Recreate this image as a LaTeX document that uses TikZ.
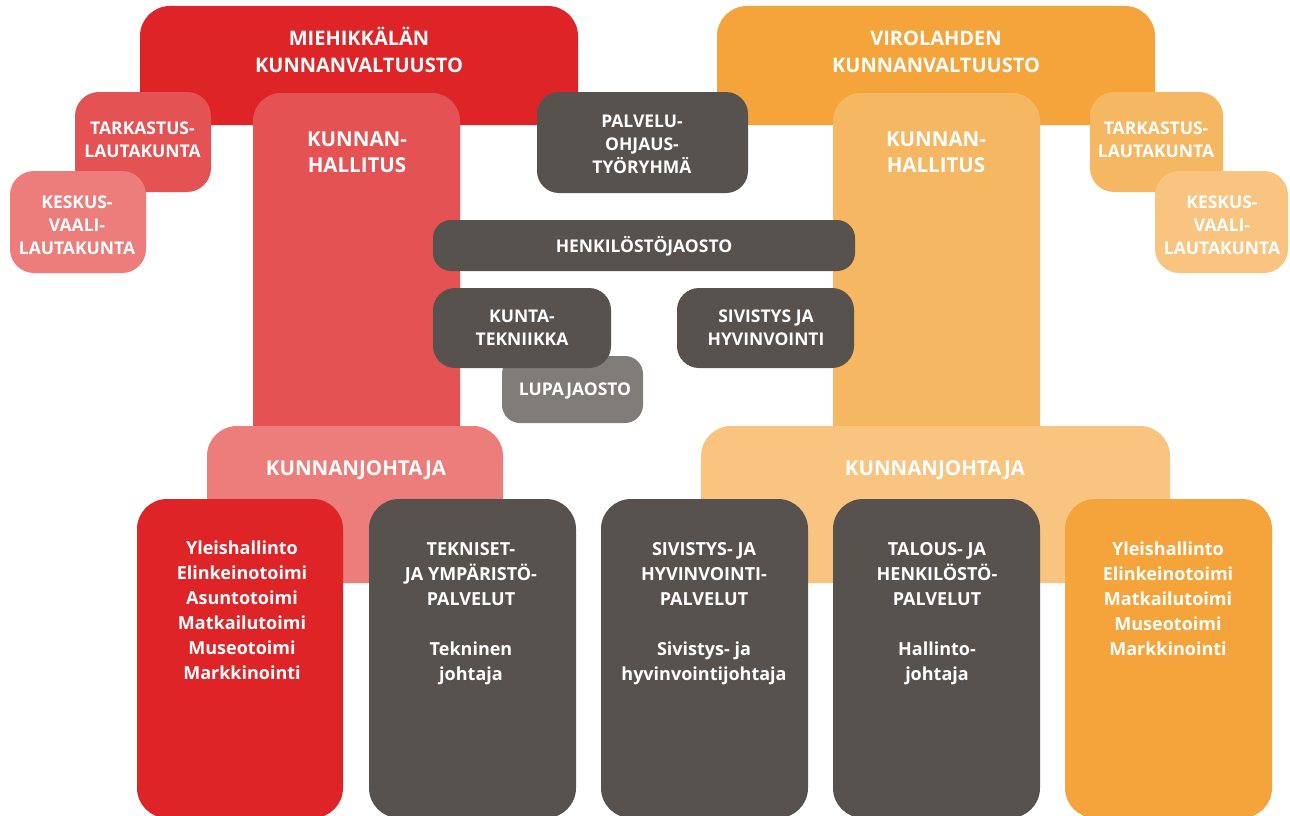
\documentclass[tikz,border=0pt]{standalone}
\usepackage{fontspec}
\setmainfont{Open Sans}
\definecolor{cRed}{HTML}{DE2427}
\definecolor{cRedMid}{HTML}{E45253}
\definecolor{cRedLight}{HTML}{ED7D7B}
\definecolor{cOr}{HTML}{F5A43B}
\definecolor{cOrMid}{HTML}{F6B763}
\definecolor{cOrLight}{HTML}{F8C47F}
\definecolor{cDark}{HTML}{57524E}
\definecolor{cGray}{HTML}{807C78}
\begin{document}
\begin{tikzpicture}[x=1pt,y=-1pt,
  box/.style={draw=none,inner sep=0pt,outer sep=0pt,rounded corners=#1},
  box/.default=24pt,
  lbl/.style={text=white,align=center,anchor=base,inner sep=0pt,font=\bfseries},
  ttl/.style={lbl,font=\fontsize{20}{27}\selectfont\bfseries},
  col/.style={lbl,font=\fontsize{20.5}{26}\selectfont\bfseries},
  sml/.style={lbl,font=\fontsize{17.5}{23}\selectfont\bfseries},
  kj/.style={lbl,font=\fontsize{20.5}{25}\selectfont\bfseries},
  bot/.style={lbl,font=\fontsize{18}{25}\selectfont\bfseries}]
\useasboundingbox (0,0) rectangle (1290,816);
\clip (0,0) rectangle (1290,816);
% council boxes
\node[box=30pt,fill=cRed,minimum width=438pt,minimum height=119pt] (mval) at (359,65.5) {};
\node[box=30pt,fill=cOr,minimum width=438pt,minimum height=119pt] (vval) at (936,65.5) {};
% audit + election boards
\node[box=24pt,fill=cRedMid,minimum width=136pt,minimum height=100pt] (mtark) at (143,142) {};
\node[box=24pt,fill=cRedLight,minimum width=136pt,minimum height=102pt] (mkesk) at (78,222) {};
\node[box=24pt,fill=cOrMid,minimum width=133pt,minimum height=100pt] (vtark) at (1156.5,142) {};
\node[box=24pt,fill=cOrLight,minimum width=133pt,minimum height=102pt] (vkesk) at (1221.5,222) {};
% board columns
\node[box=28pt,fill=cRedMid,minimum width=207pt,minimum height=367pt] (mkh) at (356.5,276.5) {};
\node[box=28pt,fill=cOrMid,minimum width=207pt,minimum height=367pt] (vkh) at (936.5,276.5) {};
% joint bodies
\node[box=22pt,fill=cDark,minimum width=211pt,minimum height=101pt] (palv) at (642.5,142.5) {};
\node[box=18pt,fill=cDark,minimum width=422pt,minimum height=51pt] (henk) at (644,245.5) {};
\node[box=18pt,fill=cGray,minimum width=141pt,minimum height=67pt] (lupa) at (572.5,389.5) {};
\node[box=22pt,fill=cDark,minimum width=178pt,minimum height=80pt] (kunta) at (522,328) {};
\node[box=22pt,fill=cDark,minimum width=177pt,minimum height=80pt] (sivh) at (765.5,328) {};
% managers
\node[box=30pt,fill=cRedLight,minimum width=296pt,minimum height=157pt] (mkj) at (355,504.5) {};
\node[box=30pt,fill=cOrLight,minimum width=469pt,minimum height=157pt] (vkj) at (935.5,504.5) {};
% bottom boxes
\node[box=30pt,fill=cRed,minimum width=206pt,minimum height=319pt] (b1) at (240,658.5) {};
\node[box=30pt,fill=cDark,minimum width=207pt,minimum height=319pt] (b2) at (472.5,658.5) {};
\node[box=30pt,fill=cDark,minimum width=207pt,minimum height=319pt] (b3) at (704.5,658.5) {};
\node[box=30pt,fill=cDark,minimum width=207pt,minimum height=319pt] (b4) at (936.5,658.5) {};
\node[box=30pt,fill=cOr,minimum width=207pt,minimum height=319pt] (b5) at (1168.5,658.5) {};
% texts (anchor = baseline of last line)
\node[ttl] (tmval) at (359,73) {MIEHIKKÄLÄN\\KUNNANVALTUUSTO};
\node[ttl] (tvval) at (936,73) {VIROLAHDEN\\KUNNANVALTUUSTO};
\node[col] (tmkh) at (357,172) {KUNNAN-\\HALLITUS};
\node[col] (tvkh) at (936,172) {KUNNAN-\\HALLITUS};
\node[sml] (tmtark) at (142.5,157) {TARKASTUS-\\LAUTAKUNTA};
\node[sml] (tmkesk) at (77,254) {KESKUS-\\VAALI-\\LAUTAKUNTA};
\node[sml] (tvtark) at (1156,157) {TARKASTUS-\\LAUTAKUNTA};
\node[sml] (tvkesk) at (1222,254) {KESKUS-\\VAALI-\\LAUTAKUNTA};
\node[sml] (tpalv) at (642,173) {PALVELU-\\OHJAUS-\\TYÖRYHMÄ};
\node[sml] (thenk) at (644,252) {HENKILÖSTÖJAOSTO};
\node[sml] (tkunta) at (522,345) {KUNTA-\\TEKNIIKKA};
\node[sml] (tsivh) at (766,345) {SIVISTYS JA\\HYVINVOINTI};
\node[sml] (tlupa) at (575,395) {LUPAJAOSTO};
\node[kj] (tmkj) at (356,475) {KUNNANJOHTAJA};
\node[kj] (tvkj) at (935,475) {KUNNANJOHTAJA};
\node[bot] (tb1) at (242,679) {Yleishallinto\\Elinkeinotoimi\\Asuntotoimi\\Matkailutoimi\\Museotoimi\\Markkinointi};
\node[bot] (tb2) at (471,680) {TEKNISET-\\JA YMPÄRISTÖ-\\PALVELUT\\[25pt]Tekninen\\johtaja};
\node[bot] (tb3) at (704,680) {SIVISTYS- JA\\HYVINVOINTI-\\PALVELUT\\[25pt]Sivistys- ja\\hyvinvointijohtaja};
\node[bot] (tb4) at (937,680) {TALOUS- JA\\HENKILÖSTÖ-\\PALVELUT\\[25pt]Hallinto-\\johtaja};
\node[bot] (tb5) at (1168,655) {Yleishallinto\\Elinkeinotoimi\\Matkailutoimi\\Museotoimi\\Markkinointi};
\end{tikzpicture}
\end{document}
